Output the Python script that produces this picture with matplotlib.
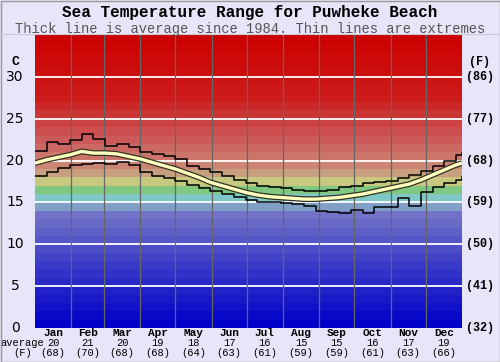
import matplotlib
matplotlib.use('Agg')
import matplotlib.pyplot as plt
import numpy as np
from matplotlib.colors import to_rgb

# Data (degrees C)
months = ['Jan', 'Feb', 'Mar', 'Apr', 'May', 'Jun', 'Jul', 'Aug', 'Sep', 'Oct', 'Nov', 'Dec']
month_days = [31, 28, 31, 30, 31, 30, 31, 31, 30, 31, 30, 31]
month_avg_c = [20, 21, 20, 19, 18, 17, 16, 15, 15, 16, 17, 19]
month_avg_f = [68, 70, 68, 68, 64, 63, 61, 59, 59, 61, 63, 66]

days = [0, 10, 20, 30, 40, 50, 60, 70, 80, 90, 100, 110, 120, 130, 140, 150, 160, 170, 180,
        190, 200, 210, 220, 230, 240, 250, 260, 270, 280, 290, 300, 310, 320, 330, 340, 350, 360, 365]
avg_temp = [19.7, 20.1, 20.4, 20.7, 21.1, 20.9, 20.9, 20.8, 20.5, 20.2, 19.8, 19.4, 19.0, 18.5,
            18.0, 17.4, 17.0, 16.6, 16.2, 15.9, 15.7, 15.6, 15.5, 15.4, 15.4, 15.5, 15.6, 15.8,
            16.0, 16.3, 16.6, 16.9, 17.2, 17.7, 18.3, 18.9, 19.5, 19.7]
max_temp = [21.2, 22.2, 22.0, 22.5, 23.2, 22.6, 21.8, 22.0, 21.6, 21.0, 20.8, 20.5, 20.2, 19.3,
            19.0, 18.6, 18.2, 17.7, 17.3, 17.0, 16.8, 16.7, 16.5, 16.4, 16.4, 16.5, 16.8, 17.0,
            17.3, 17.4, 17.6, 17.9, 18.3, 18.8, 19.4, 20.0, 20.7, 20.9]
min_temp = [18.2, 18.7, 19.1, 19.5, 19.6, 19.7, 19.6, 19.8, 19.5, 18.6, 18.2, 17.9, 17.6, 17.1,
            16.7, 16.4, 16.0, 15.7, 15.3, 15.1, 15.0, 14.9, 14.8, 14.6, 14.0, 13.9, 13.7, 14.1,
            13.7, 14.5, 14.5, 15.5, 14.6, 16.2, 16.8, 17.3, 17.7, 18.0]

c_ticks = [0, 5, 10, 15, 20, 25, 30]
f_ticks = ['(32)', '(41)', '(50)', '(59)', '(68)', '(77)', '(86)']

bg = '#e6e6f8'
fig = plt.figure(figsize=(5, 3.62), dpi=100, facecolor=bg)
ax = fig.add_axes([0.07, 0.094, 0.854, 0.809])
ax.set_xlim(0, 365)
ax.set_ylim(0, 35)

# colour bands, one per degree
anchors = [(0.5, '#0000c8'), (7.5, '#3a3ac8'), (13.5, '#7272c8'), (14.5, '#80a0c8'),
           (15.5, '#80c8c8'), (16.5, '#80c880'), (17.5, '#c8c880'), (18.5, '#c8a080'),
           (19.5, '#cc8474'), (22.5, '#cc5a5a'), (27.5, '#cc1c1c'), (34.5, '#cc0000')]
ak = [a[0] for a in anchors]
acols = np.array([to_rgb(a[1]) for a in anchors])
for t in range(35):
    col = [np.interp(t + 0.5, ak, acols[:, i]) for i in range(3)]
    ax.axhspan(t, t + 1, color=col, lw=0, zorder=0)

for t in c_ticks[1:]:
    ax.axhline(t, color='white', lw=1.3, zorder=1)
edges = np.cumsum(month_days)[:-1]
for e in edges:
    ax.axvline(e, color='#666666', lw=0.9, zorder=1)

ax.step(days, max_temp, where='post', color='black', lw=1.1, zorder=3)
ax.step(days, min_temp, where='post', color='black', lw=1.1, zorder=3)
ax.plot(days, avg_temp, color='#333322', lw=4.2, zorder=4, solid_capstyle='butt')
ax.plot(days, avg_temp, color='#ffffc0', lw=2.4, zorder=5, solid_capstyle='butt')

for s in ax.spines.values():
    s.set_visible(False)
ax.set_xticks([])
ax.set_yticks([])

# tick labels
for t, f in zip(c_ticks, f_ticks):
    ax.text(-17, t, str(t), ha='center', va='center', fontsize=10, family='DejaVu Sans')
    ax.text(380, t, f, ha='center', va='center', fontsize=8.5, family='Liberation Mono',
            weight='bold')
ax.text(-17, 31.8, 'C', ha='center', va='center', fontsize=9.5, family='Liberation Mono', weight='bold')
ax.text(380, 31.8, '(F)', ha='center', va='center', fontsize=8.5, family='Liberation Mono', weight='bold')

mids = np.cumsum(month_days) - np.array(month_days) / 2
for m, x, c, f in zip(months, mids, month_avg_c, month_avg_f):
    ax.text(x, -0.6, m, ha='center', va='center', fontsize=8, family='Liberation Mono', weight='bold')
    ax.text(x, -1.8, str(c), ha='center', va='center', fontsize=7.5, family='Liberation Mono')
    ax.text(x, -3.0, '(%d)' % f, ha='center', va='center', fontsize=7.5, family='Liberation Mono')
ax.text(-11, -1.8, 'average', ha='center', va='center', fontsize=7.5, family='Liberation Mono')
ax.text(-11, -3.0, '(F)', ha='center', va='center', fontsize=7.5, family='Liberation Mono')

fig.text(0.5, 0.966, 'Sea Temperature Range for Puwheke Beach', ha='center', va='center',
         fontsize=11.5, family='Liberation Mono', weight='bold')
fig.text(0.5, 0.92, 'Thick line is average since 1984. Thin lines are extremes', ha='center',
         va='center', fontsize=9.9, family='Liberation Mono', color='#555555')

fig.add_artist(plt.Line2D([0, 1], [0.906, 0.906], color='#c8c8d8', lw=0.8))
fig.add_artist(plt.Rectangle((0.001, 0.001), 0.998, 0.997, fill=False, ec='#999999', lw=1))

fig.savefig('out.png', dpi=100, facecolor=bg)
